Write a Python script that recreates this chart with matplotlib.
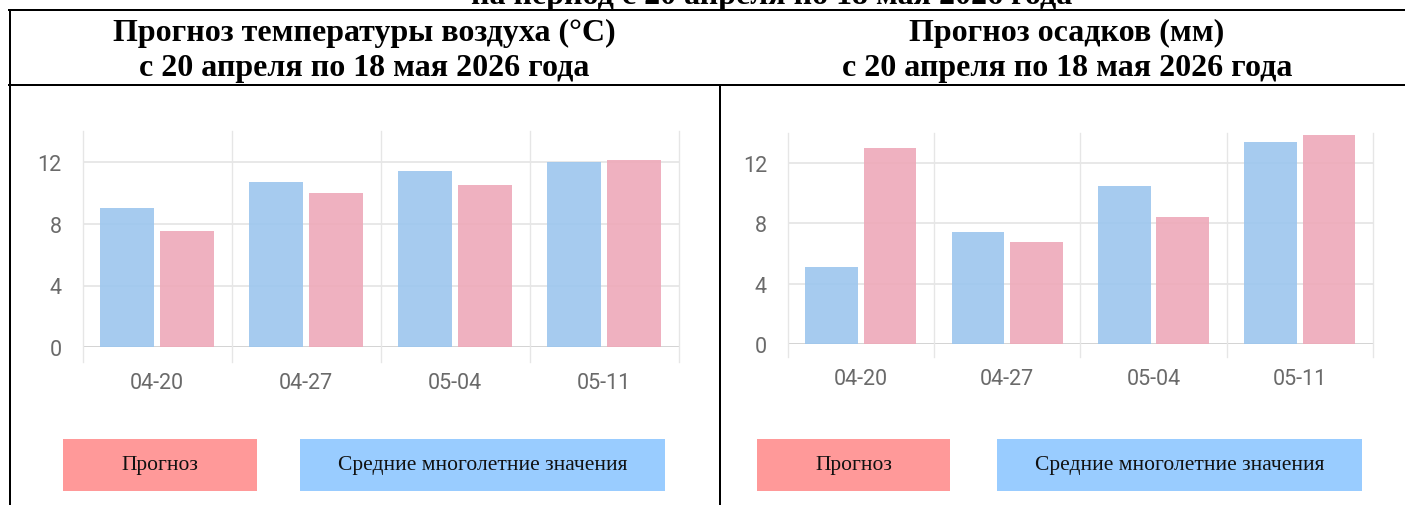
import matplotlib.pyplot as plt
from matplotlib.patches import Rectangle
from matplotlib.lines import Line2D

W, H = 1405, 506

weeks = ['04-20', '04-27', '05-04', '05-11']
temp_norm = [9.0, 10.7, 11.4, 12.0]
temp_fcst = [7.5, 10.0, 10.5, 12.1]
prec_norm = [5.1, 7.4, 10.5, 13.4]
prec_fcst = [13.0, 6.8, 8.4, 13.9]
y_ticks = [0, 4, 8, 12]

title_top = 'на период с 20 апреля по 18 мая 2026 года'
title_temp = 'Прогноз температуры воздуха (°C)\nс 20 апреля по 18 мая 2026 года'
title_prec = 'Прогноз осадков (мм)\nс 20 апреля по 18 мая 2026 года'
lbl_fcst = 'Прогноз'
lbl_norm = 'Средние многолетние значения'

BLUE = '#9CC6EE'
PINK = '#EEA9B9'
GRID = '#e6e6e6'
SERIF = ['Liberation Serif', 'DejaVu Serif']


def box(x0, y0, x1, y1):
    # pixel box (top-left origin) -> figure fraction rect
    return [x0 / W, 1 - y1 / H, (x1 - x0) / W, (y1 - y0) / H]


def draw_chart(ax, norm, fcst, ext):
    x = list(range(len(weeks)))
    ax.set_xlim(-0.5, len(weeks) - 0.5)
    ax.set_ylim(0, 14)
    for t in y_ticks:
        ax.axhline(t, color='#d0d0d0' if t == 0 else GRID, lw=1.3, zorder=0)
    for b in [i - 0.5 for i in range(len(weeks) + 1)]:
        ax.axvline(b, ymin=-ext, ymax=1, color=GRID, lw=1.0, clip_on=False, zorder=0)
    ax.bar([i - 0.2 for i in x], norm, width=0.36, color=BLUE, alpha=0.9, zorder=2)
    ax.bar([i + 0.2 for i in x], fcst, width=0.36, color=PINK, alpha=0.9, zorder=2)
    ax.set_xticks(x)
    ax.set_xticklabels(weeks)
    ax.set_yticks(y_ticks)
    ax.tick_params(length=0, labelsize=15.5, labelcolor='#6a6a6a', pad=0)
    ax.tick_params(axis='y', pad=15)
    ax.tick_params(axis='x', pad=17.5)
    for lab in ax.get_xticklabels() + ax.get_yticklabels():
        lab.set_family('Roboto')
    for s in ax.spines.values():
        s.set_visible(False)


fig = plt.figure(figsize=(W / 100, H / 100), dpi=100)

ax1 = fig.add_axes(box(82.6, 132, 678.6, 348.3))
draw_chart(ax1, temp_norm, temp_fcst, 15 / 216.3)
ax2 = fig.add_axes(box(787.7, 134, 1373, 345))
draw_chart(ax2, prec_norm, prec_fcst, 13 / 211)

# table lines
lw = 2.0 * 72 / 100
for (xs, ys) in [([9, W], [11, 11]), ([9, W], [86, 86]), ([10, 10], [11, H]), ([720, 720], [86, H])]:
    fig.add_artist(Line2D([v / W for v in xs], [1 - v / H for v in ys], color='black', lw=lw))

fig.text(772 / W, 1 - 4 / H, title_top, ha='center', va='baseline',
         fontsize=23, fontweight='bold', family=SERIF)
fig.text(364 / W, 1 - 51 / H, title_temp, ha='center', va='center', fontsize=23,
         fontweight='bold', family=SERIF, linespacing=1.28)
fig.text(1067 / W, 1 - 51 / H, title_prec, ha='center', va='center', fontsize=23,
         fontweight='bold', family=SERIF, linespacing=1.28)

legend_boxes = [
    ((63, 440, 257, 492), '#FF9999', lbl_fcst),
    ((300, 440, 665, 492), '#99CCFF', lbl_norm),
    ((757, 440, 950, 492), '#FF9999', lbl_fcst),
    ((997, 440, 1362, 492), '#99CCFF', lbl_norm),
]
for (x0, y0, x1, y1), c, t in legend_boxes:
    r = box(x0, y0, x1, y1)
    fig.add_artist(Rectangle((r[0], r[1]), r[2], r[3], transform=fig.transFigure,
                             facecolor=c, edgecolor='none'))
    fig.text((x0 + x1) / 2 / W, 1 - (y0 + y1) / 2 / H, t, ha='center', va='center',
             fontsize=15.5, family=SERIF, color='#111111')

fig.savefig('out.png', dpi=100)
